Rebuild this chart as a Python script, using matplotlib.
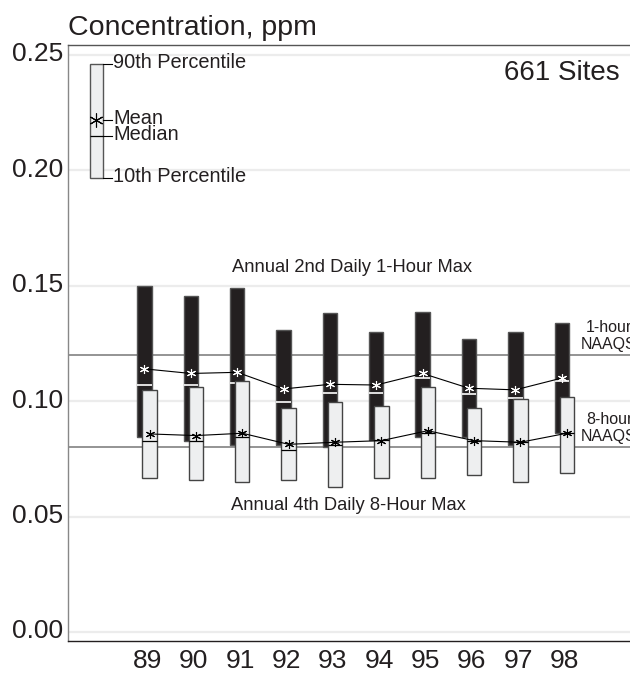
import numpy as np
import matplotlib
matplotlib.use("Agg")
import matplotlib.pyplot as plt
from matplotlib.transforms import ScaledTranslation

plt.rcParams['font.family'] = ['Liberation Sans', 'DejaVu Sans']

# Data (ppm)
years = [89, 90, 91, 92, 93, 94, 95, 96, 97, 98]

# Annual 2nd daily 1-hour max
hr1_p90 = [0.150, 0.1456, 0.149, 0.1307, 0.138, 0.130, 0.1386, 0.127, 0.130, 0.134]
hr1_p10 = [0.0846, 0.0828, 0.081, 0.081, 0.080, 0.083, 0.0846, 0.0846, 0.081, 0.086]
hr1_med = [0.107, 0.107, 0.1078, 0.0998, 0.1037, 0.1037, 0.110, 0.103, 0.1015, 0.1088]
hr1_mean = [0.114, 0.112, 0.1125, 0.1053, 0.1073, 0.107, 0.112, 0.1056, 0.1049, 0.110]

# Annual 4th daily 8-hour max
hr8_p90 = [0.1049, 0.106, 0.1088, 0.0969, 0.0998, 0.0979, 0.106, 0.0969, 0.101, 0.102]
hr8_p10 = [0.0666, 0.0659, 0.0649, 0.0659, 0.063, 0.0666, 0.0666, 0.068, 0.0649, 0.069]
hr8_med = [0.0828, 0.0828, 0.0846, 0.0789, 0.081, 0.0832, 0.0864, 0.0828, 0.0822, 0.0864]
hr8_mean = [0.0858, 0.0851, 0.0861, 0.0813, 0.0822, 0.0829, 0.0872, 0.0829, 0.0822, 0.0861]

naaqs_1hr = 0.12
naaqs_8hr = 0.08

# key box values
key_p90, key_mean, key_med, key_p10 = 0.246, 0.2218, 0.2149, 0.1966

yticks = [0.00, 0.05, 0.10, 0.15, 0.20, 0.25]

x = np.array(years, dtype=float)
x1 = x - 0.06
x8 = x + 0.05
w = 0.31
asterisk = (6, 2, 0)

fig = plt.figure(figsize=(6.3, 6.73), dpi=100)
ax = fig.add_axes([68 / 630, 1 - 641 / 673, (660 - 68) / 630, (641 - 45) / 673])

ax.set_xlim(87.29, 100.06)
ax.set_ylim(-0.0039, 0.2543)

for yv in yticks:
    ax.axhline(yv, color='#ececec', lw=1.6, zorder=0)
ax.axhline(naaqs_1hr, color='#777777', lw=1.1, zorder=1)
ax.axhline(naaqs_8hr, color='#777777', lw=1.1, zorder=1)

# 1-hour boxes
h1 = np.array(hr1_p90) - np.array(hr1_p10)
ax.bar(x1, h1, bottom=hr1_p10, width=w, color='#231f20', edgecolor='#555555', lw=1.0, zorder=2)
ax.hlines(hr1_med, x1 - w / 2, x1 + w / 2, color='white', lw=1.2, zorder=3)
ax.plot(x1, hr1_mean, color='black', lw=0.8, zorder=3)
ax.plot(x1, hr1_mean, ls='none', marker=asterisk, ms=6.5, mew=0.8, mec='white', zorder=4)

# 8-hour boxes
h8 = np.array(hr8_p90) - np.array(hr8_p10)
ax.bar(x8, h8, bottom=hr8_p10, width=w, color='#eeeff0', edgecolor='#444444', lw=1.0, zorder=5)
ax.hlines(hr8_med, x8 - w / 2, x8 + w / 2, color='black', lw=0.9, zorder=6)
ax.plot(x8, hr8_mean, color='black', lw=0.8, zorder=6)
ax.plot(x8, hr8_mean, ls='none', marker=asterisk, ms=6.5, mew=0.8, mec='black', zorder=7)

# key box
kx = 87.895
kw = 0.28
ax.bar([kx], [key_p90 - key_p10], bottom=[key_p10], width=kw, color='#eeeff0',
       edgecolor='#555555', lw=1.0, zorder=5)
ax.hlines([key_med], kx - kw / 2, kx + kw / 2, color='black', lw=0.9, zorder=6)
ax.plot([kx], [key_mean], ls='none', marker=asterisk, ms=10, mew=0.8, mec='black', zorder=7)
lx0, lx1, tx = kx + kw / 2, 88.24, 88.262
for yv, lab in [(key_p90, '90th Percentile'), (key_mean, 'Mean'),
                (key_med, 'Median'), (key_p10, '10th Percentile')]:
    ax.plot([lx0, lx1], [yv, yv], color='black', lw=0.8, zorder=6)
    ax.text(tx, yv + 0.0008, lab, fontsize=14.4, ha='left', va='center', color='#231f20')

# annotations
ax.text(93.42, 0.1577, 'Annual 2nd Daily 1-Hour Max', fontsize=13.2, ha='center', va='center',
        color='#231f20')
ax.text(93.33, 0.055, 'Annual 4th Daily 8-Hour Max', fontsize=13.2, ha='center', va='center',
        color='#231f20')
ax.text(98.96, 0.1215, '1-hour\nNAAQS', fontsize=11.5, ha='center', va='bottom',
        linespacing=1.15, color='#231f20')
ax.text(98.96, 0.0815, '8-hour\nNAAQS', fontsize=11.5, ha='center', va='bottom',
        linespacing=1.15, color='#231f20')

fig.text(68 / 630, 1 - 35 / 673, 'Concentration, ppm', fontsize=20.5, ha='left', va='baseline',
         color='#231f20')
fig.text(620 / 630, 1 - 80 / 673, '661 Sites', fontsize=20, ha='right', va='baseline',
         color='#231f20')

# axes styling
ax.set_yticks(yticks)
ax.set_yticklabels([f'{v:.2f}' for v in yticks])
ax.set_xticks(years)
ax.set_xticklabels([str(y) for y in years])
ax.tick_params(axis='both', length=0, labelsize=19, labelcolor='#231f20')
ax.tick_params(axis='y', pad=3.6)
ax.tick_params(axis='x', pad=5.5)
for lab in ax.get_yticklabels():
    lab.set_transform(lab.get_transform() + ScaledTranslation(0, 3 / 100, fig.dpi_scale_trans))

ax.spines['left'].set_color('#888888')
ax.spines['left'].set_linewidth(1.0)
ax.spines['bottom'].set_color('#231f20')
ax.spines['bottom'].set_linewidth(1.0)
ax.spines['top'].set_color('#555555')
ax.spines['top'].set_linewidth(1.0)
ax.spines['right'].set_visible(False)

fig.savefig('out.png', dpi=100)
